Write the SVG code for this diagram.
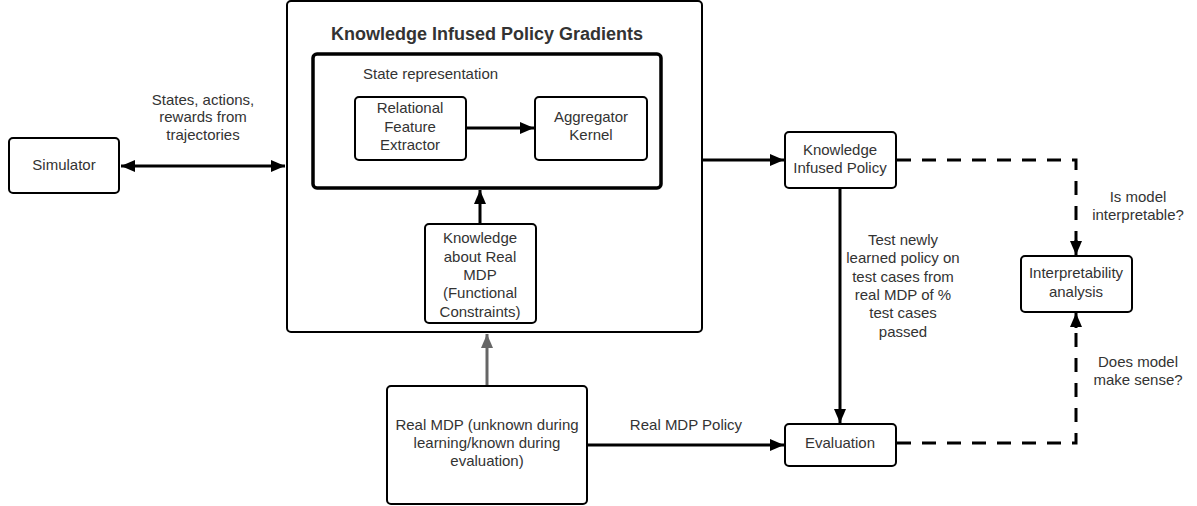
<svg xmlns="http://www.w3.org/2000/svg" width="1197" height="506" viewBox="0 0 1197 506">
<style>
.box{fill:#fff;stroke:#000;stroke-width:2}
.t{font-family:"Liberation Sans",Arial,sans-serif;font-size:15px;fill:#333;text-anchor:middle}
.c{fill:none;stroke:#000;stroke-width:3}
.d{fill:none;stroke:#000;stroke-width:3;stroke-dasharray:14 11}
</style>
<defs>
<marker id="ah" markerUnits="userSpaceOnUse" markerWidth="14" markerHeight="12" refX="14" refY="6" orient="auto-start-reverse"><path d="M0,0 L14,6 L0,12 Z" fill="#000"/></marker>
<marker id="ahg" markerUnits="userSpaceOnUse" markerWidth="14" markerHeight="12" refX="14" refY="6" orient="auto"><path d="M0,0 L14,6 L0,12 Z" fill="#666"/></marker>
</defs>
<g id="simulator">
<rect class="box" x="9" y="138" width="110" height="55" rx="4"/>
<text class="t" x="64" y="170">Simulator</text>
</g>
<g id="kipg">
<rect class="box" x="287" y="1" width="415" height="331" rx="4"/>
<text class="t" x="487" y="40" style="font-weight:bold;font-size:18px">Knowledge Infused Policy Gradients</text>
</g>
<g id="state-representation">
<rect x="313" y="54" width="348" height="134" rx="4" fill="none" stroke="#000" stroke-width="3.5"/>
<text class="t" x="363" y="79" style="text-anchor:start">State representation</text>
</g>
<g id="relational-feature-extractor">
<rect class="box" x="355" y="97" width="111" height="63" rx="4"/>
<text class="t" x="410" y="113">Relational</text>
<text class="t" x="410" y="132">Feature</text>
<text class="t" x="410" y="150">Extractor</text>
</g>
<g id="aggregator-kernel">
<rect class="box" x="535" y="97" width="112" height="63" rx="4"/>
<text class="t" x="591" y="122">Aggregator</text>
<text class="t" x="591" y="140">Kernel</text>
</g>
<g id="knowledge-about-real-mdp">
<rect class="box" x="425" y="224" width="111" height="99" rx="4"/>
<text class="t" x="480" y="243">Knowledge</text>
<text class="t" x="480" y="262">about Real</text>
<text class="t" x="480" y="280">MDP</text>
<text class="t" x="480" y="298">(Functional</text>
<text class="t" x="480" y="317">Constraints)</text>
</g>
<g id="knowledge-infused-policy">
<rect class="box" x="785" y="132" width="111" height="56" rx="4"/>
<text class="t" x="840" y="155">Knowledge</text>
<text class="t" x="840" y="173">Infused Policy</text>
</g>
<g id="real-mdp">
<rect class="box" x="387" y="386" width="200" height="118" rx="4"/>
<text class="t" x="487" y="430">Real MDP (unknown during</text>
<text class="t" x="487" y="448">learning/known during</text>
<text class="t" x="487" y="466">evaluation)</text>
</g>
<g id="evaluation">
<rect class="box" x="785" y="424" width="111" height="42" rx="4"/>
<text class="t" x="840" y="448">Evaluation</text>
</g>
<g id="interpretability-analysis">
<rect class="box" x="1021" y="256" width="111" height="56" rx="4"/>
<text class="t" x="1076" y="278">Interpretability</text>
<text class="t" x="1076" y="297">analysis</text>
</g>
<g id="connectors">
<path class="c" d="M121,166 H285" marker-start="url(#ah)" marker-end="url(#ah)"/>
<path class="c" d="M467,128 H534" marker-end="url(#ah)"/>
<path class="c" d="M480,223 V190" marker-end="url(#ah)"/>
<path class="c" d="M703,160 H784" marker-end="url(#ah)"/>
<path d="M487,385 V334" fill="none" stroke="#666" stroke-width="3" marker-end="url(#ahg)"/>
<path class="c" d="M840,189 V423" marker-end="url(#ah)"/>
<path class="c" d="M588,445 H784" marker-end="url(#ah)"/>
<path class="d" d="M897,160 H1076 V242"/>
<path class="c" d="M1076,240 V255" marker-end="url(#ah)"/>
<path class="d" d="M897,443 H1076 V326"/>
<path class="c" d="M1076,328 V313" marker-end="url(#ah)"/>
<text class="t" x="203" y="105">States, actions,</text>
<text class="t" x="203" y="122">rewards from</text>
<text class="t" x="203" y="140">trajectories</text>
<text class="t" x="903" y="245">Test newly</text>
<text class="t" x="903" y="263">learned policy on</text>
<text class="t" x="903" y="282">test cases from</text>
<text class="t" x="903" y="300">real MDP of %</text>
<text class="t" x="903" y="318">test cases</text>
<text class="t" x="903" y="337">passed</text>
<text class="t" x="686" y="430">Real MDP Policy</text>
<text class="t" x="1138" y="202">Is model</text>
<text class="t" x="1138" y="220">interpretable?</text>
<text class="t" x="1138" y="367">Does model</text>
<text class="t" x="1138" y="385">make sense?</text>
</g>
</svg>
